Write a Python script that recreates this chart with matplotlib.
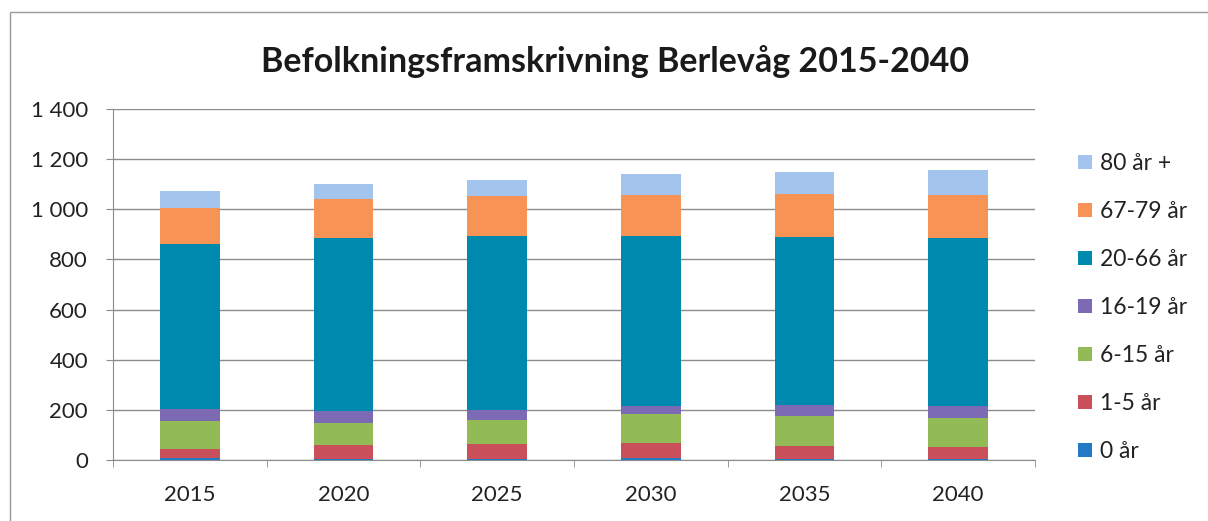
import numpy as np
import matplotlib
matplotlib.use('Agg')
import matplotlib.pyplot as plt
from matplotlib.patches import Rectangle

plt.rcParams['font.family'] = ['Lato', 'DejaVu Sans']

years = ['2015', '2020', '2025', '2030', '2035', '2040']
groups = ['0 år', '1-5 år', '6-15 år', '16-19 år', '20-66 år', '67-79 år', '80 år +']
colors = ['#2479C4', '#C9505A', '#93BB55', '#7D6AB4', '#0089AE', '#F79455', '#A3C4EC']

age_0 = [7, 5, 5, 6, 3, 4]
age_1_5 = [37, 54, 59, 60, 54, 47]
age_6_15 = [113, 88, 96, 116, 120, 117]
age_16_19 = [46, 49, 40, 33, 42, 47]
age_20_66 = [657, 688, 693, 680, 671, 670]
age_67_79 = [147, 159, 160, 162, 169, 172]
age_80 = [66, 57, 63, 85, 91, 98]
series = [age_0, age_1_5, age_6_15, age_16_19, age_20_66, age_67_79, age_80]

fig = plt.figure(figsize=(12.08, 5.21), dpi=100)
ax = fig.add_axes([113/1208, 61/521, 922/1208, 351/521])

x = np.arange(len(years))
bottom = np.zeros(len(years))
handles = []
for vals, name, col in zip(series, groups, colors):
    b = ax.bar(x, vals, width=0.39, bottom=bottom, color=col, label=name, zorder=3)
    handles.append(b)
    bottom += np.array(vals)

ax.set_xlim(-0.5, len(years) - 0.5)
ax.set_ylim(0, 1400)
ax.set_yticks(np.arange(0, 1401, 200))
ax.set_yticklabels([f'{v:,}'.replace(',', ' ') for v in range(0, 1401, 200)])
ax.yaxis.grid(True, color='#8c8c8c', linewidth=1, zorder=0)
ax.set_xticks(x)
ax.set_xticklabels(years)
ax.set_xticks(np.arange(-0.5, len(years)), minor=True)
ax.tick_params(axis='x', which='major', length=0, pad=18, labelsize=16, labelcolor='#222222')
ax.tick_params(axis='x', which='minor', length=5, color='#8c8c8c', direction='out')
ax.tick_params(axis='y', length=5, color='#8c8c8c', labelsize=16, pad=13, labelcolor='#222222')
for s in ['top', 'right']:
    ax.spines[s].set_visible(False)
ax.spines['left'].set_color('#8c8c8c')
ax.spines['bottom'].set_color('#8c8c8c')

fig.text(615/1208, 1 - 62/521, 'Befolkningsframskrivning Berlevåg 2015-2040',
         ha='center', va='center', fontsize=24.5, fontweight='bold', color='#1a1a1a')

leg = fig.legend(handles[::-1], groups[::-1], loc='upper left',
                 bbox_to_anchor=(1078/1208, 1 - 153/521), frameon=False,
                 fontsize=16.5, handlelength=0.6, handleheight=0.6,
                 handletextpad=0.35, labelspacing=1.18,
                 borderaxespad=0, borderpad=0)
for t in leg.get_texts():
    t.set_color('#222222')

fig.add_artist(Rectangle((10/1208, -0.1), 1.2, 1.1 - 12/521, transform=fig.transFigure,
                         fill=False, edgecolor='#9a9a9a', linewidth=1))

fig.savefig('out.png', dpi=100)
